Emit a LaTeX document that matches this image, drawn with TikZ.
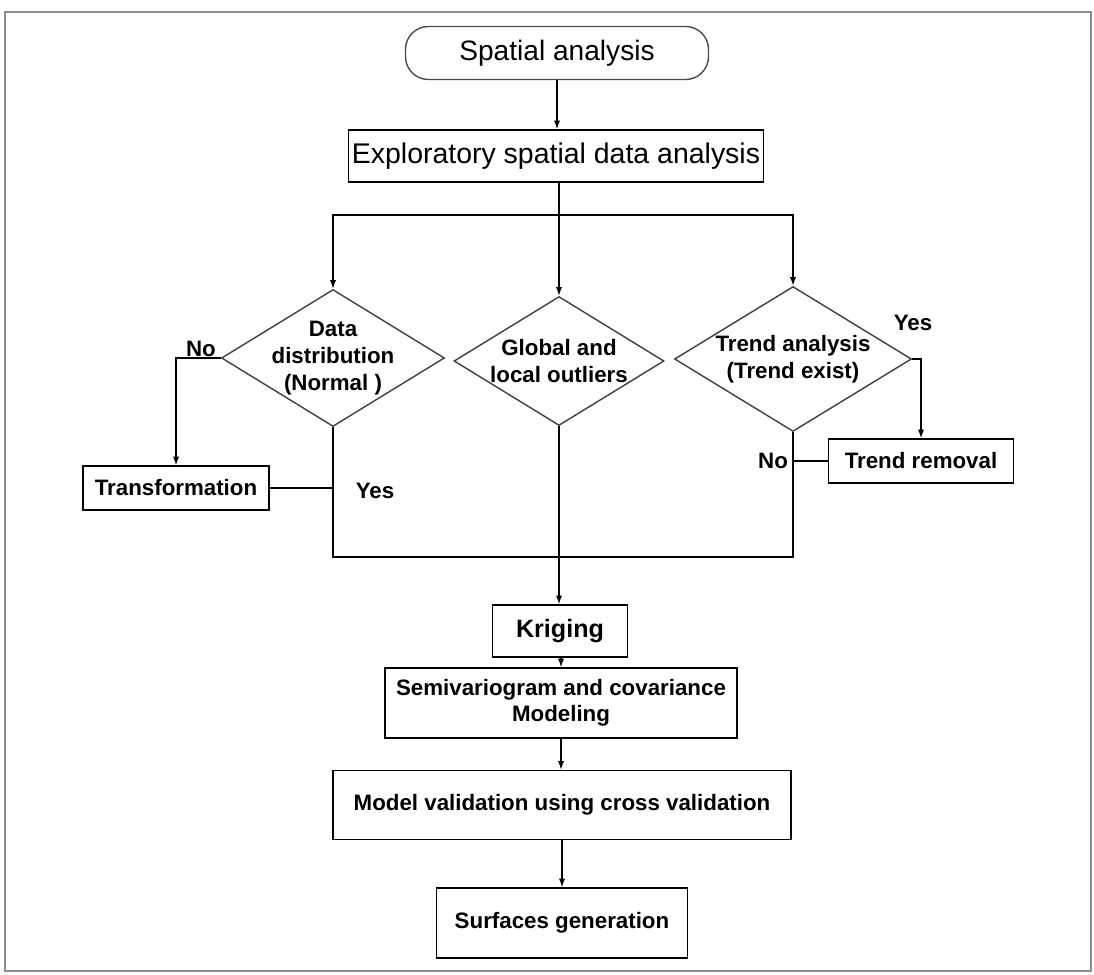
\documentclass[tikz,border=0pt]{standalone}
\usepackage{fontspec}
\setmainfont{Liberation Sans}
\usetikzlibrary{shapes.geometric,arrows.meta}

\tikzset{
  box/.style={draw,thick,inner sep=0pt,font=\bfseries\fontsize{12.7}{15}\selectfont},
  dia/.style={draw=black!75,diamond,inner sep=0pt},
  dtext/.style={align=center,font=\bfseries\fontsize{12.7}{15.5}\selectfont},
  lbl/.style={font=\bfseries\fontsize{12.7}{15}\selectfont},
  arr/.style={-{Latex[length=5pt,width=3.6pt]}}
}

\begin{document}
\begin{tikzpicture}[x=0.02cm,y=-0.02cm,thick]
  \useasboundingbox (0,0) rectangle (1094,974);
  \draw[black!45,line width=0.9pt] (5,12) rectangle (1091,971);
  % top of the chart
  \node[draw=black!70,rounded corners=13pt,minimum width=303*0.02cm,minimum height=53*0.02cm,
        font=\fontsize{16}{18}\selectfont] (SA) at (557,53) {Spatial analysis};
  \node[box,font=\fontsize{16.2}{19}\selectfont,minimum width=415*0.02cm,minimum height=52*0.02cm]
        (ESDA) at (556,156) {Exploratory spatial data analysis};
  % the three checks
  \node[dia,minimum width=223*0.02cm,minimum height=137*0.02cm] (DD) at (333,358) {};
  \node[dtext] (DDt) at (DD) {Data\\distribution\\(Normal )};
  \node[dia,minimum width=210*0.02cm,minimum height=129*0.02cm] (GL) at (559,361) {};
  \node[dtext] (GLt) at (GL) {Global and\\local outliers};
  \node[dia,minimum width=237*0.02cm,minimum height=145*0.02cm] (TA) at (793,359) {};
  \node[dtext] (TAt) at (TA) {Trend analysis\\(Trend exist)};
  \node[box,minimum width=186*0.02cm,minimum height=44*0.02cm] (TF) at (176,488) {Transformation};
  \node[box,minimum width=185*0.02cm,minimum height=44*0.02cm] (TR) at (921,461) {Trend removal};
  % bottom of the chart
  \node[box,font=\bfseries\fontsize{14.3}{17}\selectfont,minimum width=135*0.02cm,minimum height=52*0.02cm]
        (KR) at (560,631) {Kriging};
  \node[box,align=center,minimum width=352*0.02cm,minimum height=70*0.02cm]
        (SV) at (561,703) {Semivariogram and covariance\\Modeling};
  \node[box,minimum width=458*0.02cm,minimum height=69*0.02cm]
        (MV) at (562,805) {Model validation using cross validation};
  \node[box,minimum width=251*0.02cm,minimum height=70*0.02cm]
        (SG) at (562,923) {Surfaces generation};
  \coordinate (split) at (559,215);
  \coordinate (merge) at (559,557);

  \draw[arr] (SA) -- (SA |- ESDA.north);
  \draw[arr] (ESDA.south -| GL.north) -- (GL.north);
  \draw[arr] (split) -| (DD.north);
  \draw[arr] (split) -| (TA.north);
  \draw[arr] (DD.west) -| (TF.north);
  \draw (TF.east) -- (TF.east -| DD.south);
  \draw (DD.south) |- (merge) -| (TA.south);
  \draw[arr] (TA.east) -| (TR.north);
  \draw (TR.west) -- (TR.west -| TA.south);
  \draw[arr] (GL.south) -- (GL.south |- KR.north);
  \draw[arr] (KR.south -| SV.north) -- (SV.north);
  \draw[arr] (SV.south) -- (SV.south |- MV.north);
  \draw[arr] (MV.south) -- (MV.south |- SG.north);
  \node[lbl] (no1) at (201,349) {No};
  \node[lbl] (yes1) at (375,491) {Yes};
  \node[lbl] (yes2) at (913,323) {Yes};
  \node[lbl] (no2) at (773,461) {No};
\end{tikzpicture}
\end{document}
